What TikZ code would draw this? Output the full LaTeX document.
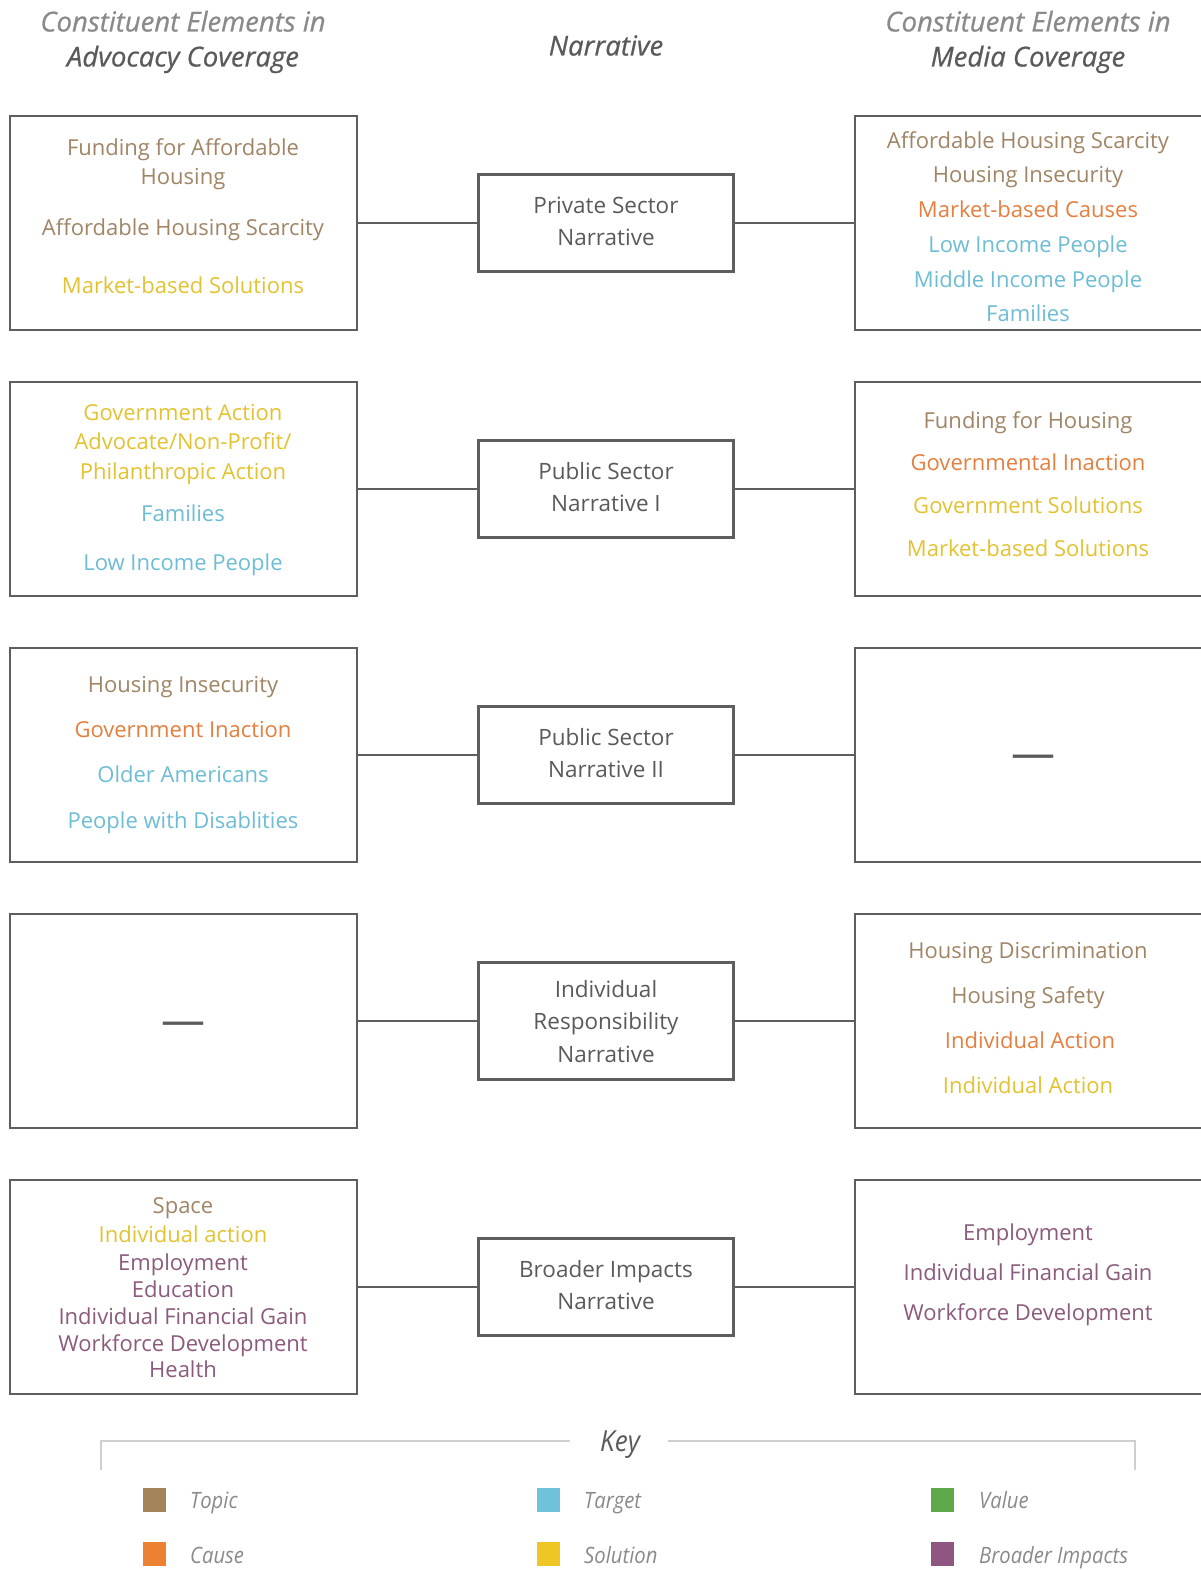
\documentclass[tikz,border=0pt]{standalone}
\usepackage{fontspec}
\usetikzlibrary{calc}
\setmainfont{Open Sans}
\newfontfamily\hdfont[FakeBold=0.6]{Open Sans}
\newfontfamily\klfont[FakeStretch=0.9]{Open Sans}
\definecolor{ctopic}{HTML}{A08566}
\definecolor{ccause}{HTML}{E47F3F}
\definecolor{ctarget}{HTML}{6DBDD5}
\definecolor{csol}{HTML}{E3C232}
\definecolor{cval}{HTML}{5FA84A}
\definecolor{cbroad}{HTML}{8C5A7C}
\definecolor{sw1}{HTML}{A68459}
\definecolor{sw2}{HTML}{EC8133}
\definecolor{sw3}{HTML}{6EC3DA}
\definecolor{sw4}{HTML}{EFC623}
\definecolor{sw5}{HTML}{5FA84A}
\definecolor{sw6}{HTML}{8E5680}
\definecolor{boxline}{HTML}{5E5E5E}
\definecolor{hdlight}{HTML}{8A8A8A}
\definecolor{hddark}{HTML}{5A5A5A}
\definecolor{keyline}{HTML}{CFCFCF}
\begin{document}
\begin{tikzpicture}[x=1pt,y=-1pt,
  sidebox/.style={draw=boxline,line width=2.2pt,minimum width=347pt,minimum height=214pt,inner sep=0pt},
  rbox/.style={draw=boxline,line width=2.2pt,minimum width=360pt,minimum height=214pt,inner sep=0pt},
  midbox/.style={draw=boxline,line width=2.2pt,minimum width=255pt,minimum height=97pt,inner sep=0pt},
  conn/.style={draw=boxline,line width=2pt},
  item/.style={inner sep=0pt,yshift=-6pt,text height=0.72em,text depth=0.22em,font=\fontsize{22}{24}\selectfont},
  mid/.style={inner sep=0pt,yshift=-6pt,text height=0.72em,text depth=0.22em,text=hddark,font=\fontsize{22.5}{25}\selectfont},
  hd/.style={inner sep=0pt,yshift=-7pt,text height=0.72em,text depth=0.22em,font=\hdfont\itshape\fontsize{27.5}{30}\selectfont},
  keylab/.style={inner sep=0pt,yshift=-7pt,anchor=west,text height=0.72em,text depth=0.22em,text=hdlight,font=\klfont\itshape\fontsize{22.5}{25}\selectfont},
  swatch/.style={minimum width=23pt,minimum height=24pt,inner sep=0pt},
  emd/.style={inner sep=0pt,text=hddark,font=\fontsize{44}{46}\selectfont}]
\useasboundingbox[fill=white] (0,0) rectangle (1200,1570);

% headers
\node[hd,text=hdlight] (h1a) at (183,22) {Constituent Elements in};
\node[hd,text=hddark] (h1b) at (183,57) {Advocacy Coverage};
\node[hd,text=hddark] (h2) at (606,46) {Narrative};
\node[hd,text=hdlight] (h3a) at (1028,22) {Constituent Elements in};
\node[hd,text=hddark] (h3b) at (1028,57) {Media Coverage};

% boxes
\foreach \r/\y in {1/223,2/489,3/755,4/1021,5/1287}{
  \node[sidebox] (L\r) at (183.5,\y) {};
  \node[rbox] (R\r) at (1035,\y) {};
}
\node[midbox] (M1) at (606,223) {};
\node[midbox] (M2) at (606,489) {};
\node[midbox] (M3) at (606,755) {};
\node[midbox,minimum height=117pt] (M4) at (606,1021) {};
\node[midbox] (M5) at (606,1287) {};
\foreach \r in {1,...,5}{
  \draw[conn] (L\r.east) -- (M\r.west);
  \draw[conn] (M\r.east) -- (R\r.west);
}

% middle texts
\node[mid] (m1a) at (606,205) {Private Sector};
\node[mid] (m1b) at (606,237) {Narrative};
\node[mid] (m2a) at (606,471) {Public Sector};
\node[mid] (m2b) at (606,503) {Narrative I};
\node[mid] (m3a) at (606,737) {Public Sector};
\node[mid] (m3b) at (606,769) {Narrative II};
\node[mid] (m4a) at (606,989) {Individual};
\node[mid] (m4b) at (606,1021) {Responsibility};
\node[mid] (m4c) at (606,1054) {Narrative};
\node[mid] (m5a) at (606,1269) {Broader Impacts};
\node[mid] (m5b) at (606,1301) {Narrative};

% row 1
\node[item,text=ctopic] (a1) at (183,147) {Funding for Affordable};
\node[item,text=ctopic] (a2) at (183,176) {Housing};
\node[item,text=ctopic] (a3) at (183,227) {Affordable Housing Scarcity};
\node[item,text=csol] (a4) at (183,285) {Market-based Solutions};
\node[item,text=ctopic] (b1) at (1028,140) {Affordable Housing Scarcity};
\node[item,text=ctopic] (b2) at (1028,174) {Housing Insecurity};
\node[item,text=ccause] (b3) at (1028,209) {Market-based Causes};
\node[item,text=ctarget] (b4) at (1028,244) {Low Income People};
\node[item,text=ctarget] (b5) at (1028,279) {Middle Income People};
\node[item,text=ctarget] (b6) at (1028,313) {Families};

% row 2
\node[item,text=csol] (c1) at (183,412) {Government Action};
\node[item,text=csol] (c2) at (183,441) {Advocate/Non-Profit/};
\node[item,text=csol] (c3) at (183,471) {Philanthropic Action};
\node[item,text=ctarget] (c4) at (183,513) {Families};
\node[item,text=ctarget] (c5) at (183,562) {Low Income People};
\node[item,text=ctopic] (d1) at (1028,420) {Funding for Housing};
\node[item,text=ccause] (d2) at (1028,462) {Governmental Inaction};
\node[item,text=csol] (d3) at (1028,505) {Government Solutions};
\node[item,text=csol] (d4) at (1028,548) {Market-based Solutions};

% row 3
\node[item,text=ctopic] (e1) at (183,684) {Housing Insecurity};
\node[item,text=ccause] (e2) at (183,729) {Government Inaction};
\node[item,text=ctarget] (e3) at (183,774) {Older Americans};
\node[item,text=ctarget] (e4) at (183,820) {People with Disablities};
\node[emd] (f1) at (1033,762) {—};

% row 4
\node[emd] (g1) at (183,1029) {—};
\node[item,text=ctopic] (h1) at (1028,950) {Housing Discrimination};
\node[item,text=ctopic] (h2x) at (1028,995) {Housing Safety};
\node[item,text=ccause] (h3) at (1030,1040) {Individual Action};
\node[item,text=csol] (h4) at (1028,1085) {Individual Action};

% row 5
\node[item,text=ctopic] (i1) at (183,1205) {Space};
\node[item,text=csol] (i2) at (183,1234) {Individual action};
\node[item,text=cbroad] (i3) at (183,1262) {Employment};
\node[item,text=cbroad] (i4) at (183,1289) {Education};
\node[item,text=cbroad] (i5) at (183,1316) {Individual Financial Gain};
\node[item,text=cbroad] (i6) at (183,1343) {Workforce Development};
\node[item,text=cbroad] (i7) at (183,1369) {Health};
\node[item,text=cbroad] (j1) at (1028,1232) {Employment};
\node[item,text=cbroad] (j2) at (1028,1272) {Individual Financial Gain};
\node[item,text=cbroad] (j3) at (1028,1312) {Workforce Development};

% key
\node[inner sep=0pt,yshift=-8pt,text height=0.72em,text depth=0.22em,text=hddark,font=\klfont\itshape\fontsize{29}{32}\selectfont] (key) at (620,1441) {Key};
\coordinate (kl) at (101,1441);
\coordinate (kr) at (1135,1441);
\draw[keyline,line width=1.5pt] ($(kl)+(0,29)$) -- (kl) -- (570,1441);
\draw[keyline,line width=1.5pt] (668,1441) -- (kr) -- ($(kr)+(0,29)$);

\node[swatch,fill=sw1] (s1) at (154.5,1500) {};
\node[keylab] (k1) at (190,1499) {Topic};
\node[swatch,fill=sw3] (s3) at (548.5,1500) {};
\node[keylab] (k3) at (584,1499) {Target};
\node[swatch,fill=sw5] (s5) at (942.5,1500) {};
\node[keylab] (k5) at (979,1499) {Value};
\node[swatch,fill=sw2] (s2) at (154.5,1554) {};
\node[keylab] (k2) at (190,1554) {Cause};
\node[swatch,fill=sw4] (s4) at (548.5,1554) {};
\node[keylab] (k4) at (584,1554) {Solution};
\node[swatch,fill=sw6] (s6) at (942.5,1554) {};
\node[keylab] (k6) at (979,1554) {Broader Impacts};
\end{tikzpicture}
\end{document}
